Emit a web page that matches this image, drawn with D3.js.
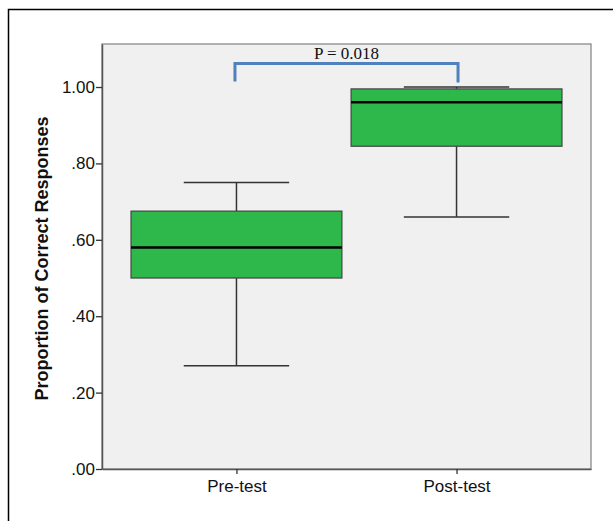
<!DOCTYPE html>
<html>
<head>
<meta charset="utf-8">
<script src="https://cdn.jsdelivr.net/npm/d3@7"></script>
<style>
  body { margin: 0; background: #fff; }
  svg { display: block; }
</style>
</head>
<body>
<svg width="613" height="521"></svg>
<script>
const GREEN = "#2EB84B";
const PANEL = "#F0F0F0";
const BRACKET = "#4F81BD";

// data
const groups = ["Pre-test", "Post-test"];
const lowWhisker = [0.27, 0.66];
const q1 = [0.50, 0.845];
const median = [0.58, 0.96];
const q3 = [0.675, 0.995];
const highWhisker = [0.75, 1.00];
const yTicks = [0, 0.2, 0.4, 0.6, 0.8, 1.0];
const pLabel = "P = 0.018";

var svg = d3.select("svg");

// outer frame (only top + left show)
svg.append("path")
    .attr("d", "M8.5,521V9.5H613")
    .attr("fill", "none")
    .attr("stroke", "#000")
    .attr("stroke-width", 1.5);

m = { top: 44, right: 22, bottom: 52, left: 102 };
w = 613 - m.left - m.right;
h = 521 - m.top - m.bottom;

var g = svg.append("g").attr("transform", `translate(${m.left},${m.top})`);

var y = d3.scaleLinear().domain([0, 1.1126]).range([h, 0]);
var x = d3.scalePoint().domain(groups).range([0, w]).padding(0.611);
var boxW = x.step() * 0.958;
var capW = boxW / 2;

// panel
g.append("rect")
    .attr("width", w).attr("height", h)
    .attr("fill", PANEL)
    .attr("stroke", "#8a8a8a")
    .attr("stroke-width", 1.3);

// axes
var yAxis = g.append("g")
    .call(d3.axisLeft(y).tickValues(yTicks).tickSizeInner(6).tickSizeOuter(0).tickPadding(1)
        .tickFormat(d => d === 1 ? "1.00" : d3.format(".2f")(d).replace(/^0/, "")));
var xAxis = g.append("g")
    .attr("transform", `translate(0,${h})`)
    .call(d3.axisBottom(x).tickSizeInner(5).tickSizeOuter(0).tickPadding(6));

[yAxis, xAxis].forEach(a => {
    a.attr("font-size", null).attr("font-family", null);
    a.select(".domain").attr("stroke", "#555").attr("stroke-width", 1.5);
    a.selectAll(".tick line").attr("stroke", "#333").attr("stroke-width", 1.3);
    a.selectAll("text").attr("fill", "#111")
        .style("font-family", "Liberation Sans, Arial, sans-serif")
        .style("font-size", "17px");
});

// y title
svg.append("text")
    .attr("transform", `translate(48,${m.top + h / 2 + 2}) rotate(-90)`)
    .attr("text-anchor", "middle")
    .style("font-family", "Liberation Sans, Arial, sans-serif")
    .style("font-size", "18px")
    .style("font-weight", "bold")
    .attr("fill", "#111")
    .text("Proportion of Correct Responses");

// boxes
var box = g.selectAll(".box").data(groups).enter().append("g").attr("class", "box");

// whisker stems
box.append("line")
    .attr("x1", d => x(d)).attr("x2", d => x(d))
    .attr("y1", (d, i) => y(lowWhisker[i])).attr("y2", (d, i) => y(highWhisker[i]))
    .attr("stroke", "#333").attr("stroke-width", 1.5);
// caps
[lowWhisker, highWhisker].forEach(arr => {
    box.append("line")
        .attr("x1", d => x(d) - capW / 2).attr("x2", d => x(d) + capW / 2)
        .attr("y1", (d, i) => y(arr[i])).attr("y2", (d, i) => y(arr[i]))
        .attr("stroke", "#333").attr("stroke-width", 1.5);
});
box.append("rect")
    .attr("x", d => x(d) - boxW / 2)
    .attr("width", boxW)
    .attr("y", (d, i) => y(q3[i]))
    .attr("height", (d, i) => y(q1[i]) - y(q3[i]))
    .attr("fill", GREEN)
    .attr("stroke", "#4a4a4a")
    .attr("stroke-width", 1.3);
box.append("line")
    .attr("x1", d => x(d) - boxW / 2).attr("x2", d => x(d) + boxW / 2)
    .attr("y1", (d, i) => y(median[i])).attr("y2", (d, i) => y(median[i]))
    .attr("stroke", "#000").attr("stroke-width", 2.5);

// significance bracket
var bx0 = x(groups[0]) - 1.5, bx1 = x(groups[1]) + 1.5;
var bTop = 19.5;
g.append("path")
    .attr("d", `M${bx0},${bTop + 18}V${bTop}H${bx1}V${bTop + 19}`)
    .attr("fill", "none")
    .attr("stroke", BRACKET)
    .attr("stroke-width", 3);
g.append("text")
    .attr("x", (bx0 + bx1) / 2)
    .attr("y", bTop - 5)
    .attr("text-anchor", "middle")
    .style("font-family", "Liberation Serif, Times New Roman, serif")
    .style("font-size", "17px")
    .attr("fill", "#111")
    .text(pLabel);
</script>
</body>
</html>
